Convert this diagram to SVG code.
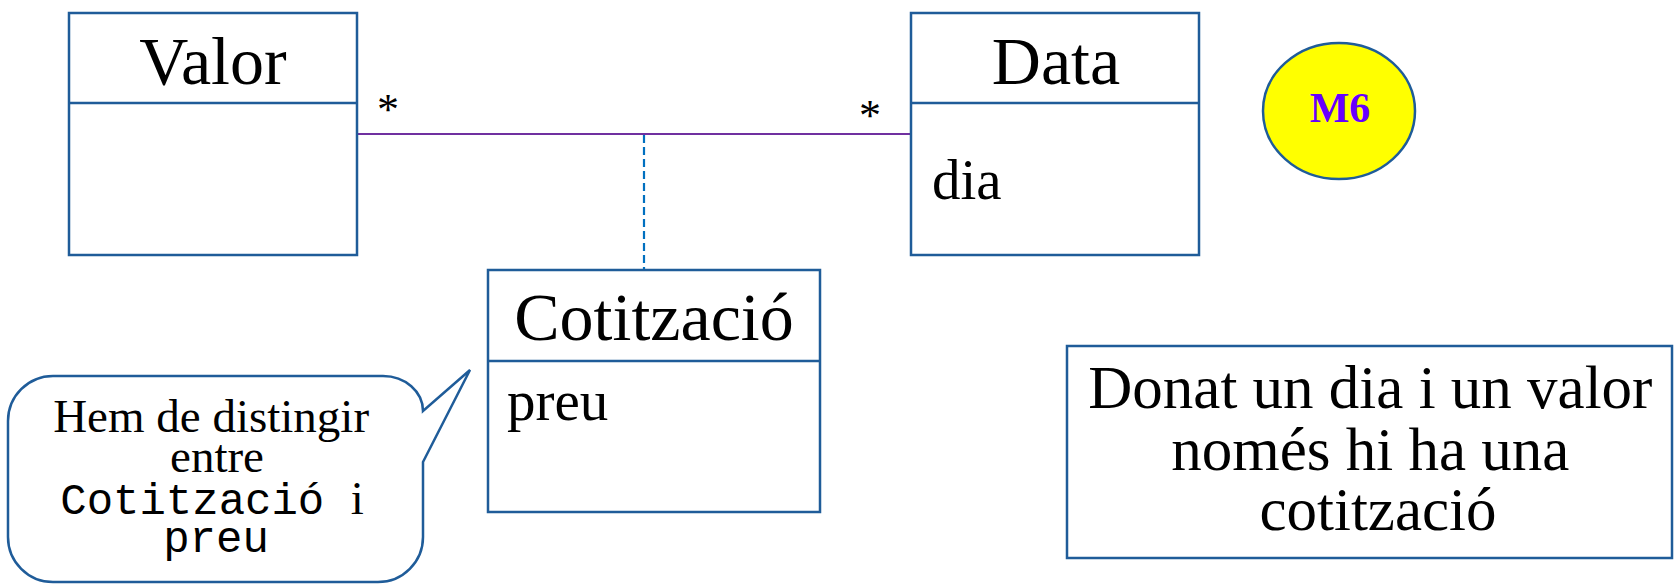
<svg xmlns="http://www.w3.org/2000/svg" width="1674" height="584" viewBox="0 0 1674 584">
<style>
.box{fill:#fff;stroke:#1F5C99;stroke-width:2.5}
.t{font-family:"Liberation Serif",serif;fill:#000}
.hd{font-size:68px;text-anchor:middle}
.at{font-size:57px}
.mono{font-family:"Liberation Mono",monospace}
.star{font-size:44px;text-anchor:middle}
</style>
<rect width="1674" height="584" fill="#fff"/>
<g id="connectors">
<line x1="357" y1="134" x2="911" y2="134" stroke="#7030A0" stroke-width="2.2"/>
<line x1="644" y1="135" x2="644" y2="270" stroke="#0070C0" stroke-width="2.2" stroke-dasharray="8,4"/>
<text class="t star" x="388" y="124">*</text>
<text class="t star" x="870" y="130">*</text>
</g>
<g id="valor">
<rect class="box" x="69" y="13" width="288" height="242"/>
<line class="box" x1="69" y1="103" x2="357" y2="103"/>
<text class="t hd" x="213" y="84">Valor</text>
</g>
<g id="data">
<rect class="box" x="911" y="13" width="288" height="242"/>
<line class="box" x1="911" y1="103" x2="1199" y2="103"/>
<text class="t hd" x="1056" y="84">Data</text>
<text class="t at" x="932" y="199">dia</text>
</g>
<g id="cotitzacio">
<rect class="box" x="488" y="270" width="332" height="242"/>
<line class="box" x1="488" y1="361" x2="820" y2="361"/>
<text class="t hd" x="654" y="340">Cotització</text>
<text class="t at" x="507" y="420">preu</text>
</g>
<g id="m6">
<ellipse cx="1339" cy="111" rx="76" ry="68" fill="#FFFF00" stroke="#1F5C99" stroke-width="2.5"/>
<text x="1340" y="122" font-family="Liberation Serif,serif" font-weight="bold" font-size="42" fill="#6600FF" text-anchor="middle">M6</text>
</g>
<g id="callout">
<path class="box" d="M53 376 H383 A40 35 0 0 1 423 411 L470 370 L423 462 V537 A45 45 0 0 1 378 582 H53 A45 45 0 0 1 8 537 V421 A45 45 0 0 1 53 376 Z"/>
<text class="t" font-size="47" text-anchor="middle">
<tspan x="217" y="432">Hem de distingir</tspan>
<tspan x="217" y="472">entre</tspan>
</text>
<text class="t" font-size="47" text-anchor="middle" x="212" y="514"><tspan class="mono" font-size="44">Cotització </tspan><tspan>i</tspan></text>
<text class="t mono" font-size="44" text-anchor="middle" x="216" y="552">preu</text>
</g>
<g id="note">
<rect class="box" x="1067" y="346" width="605" height="212"/>
<text class="t" font-size="61" text-anchor="middle">
<tspan x="1378" y="408">Donat un dia i un valor</tspan>
<tspan x="1378" y="470">només hi ha una</tspan>
<tspan x="1378" y="530">cotització</tspan>
</text>
</g>
</svg>
